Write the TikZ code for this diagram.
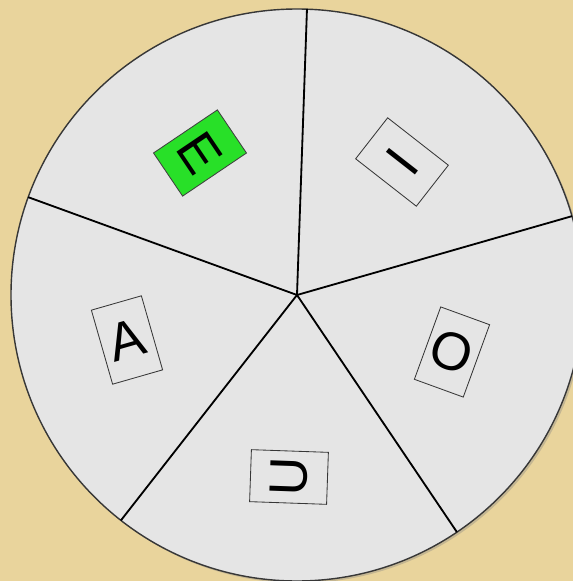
\documentclass[tikz,border=0pt]{standalone}
\usepackage{fontspec}
\setmainfont{Liberation Sans}
\usepackage{xcolor}
\usetikzlibrary{shadows}
\definecolor{Parchment}{RGB}{233,212,156}
\definecolor{WheelGray}{RGB}{229,229,229}
\definecolor{RimGray}{RGB}{55,55,55}
\definecolor{PickGreen}{RGB}{40,224,40}

\begin{document}
\begin{tikzpicture}[
  x=0.025cm,
  y=0.025cm,
  tile/.style={
    rectangle,
    draw=RimGray,
    line width=0.6pt,
    fill=WheelGray,
    minimum width=1.3cm,
    minimum height=1.925cm,
    inner sep=0pt,
    font=\fontsize{38}{40}\selectfont
  },
  picked/.style={
    tile,
    fill=PickGreen,
    draw=black!75
  },
  spoke/.style={line width=1.3pt, black}
]

% Frame: parchment backdrop
\useasboundingbox (-297,-286) rectangle (276,295);
\fill[Parchment] (-297,-286) rectangle (276,295);

% Wheel disc
\coordinate (hub) at (0,0);
\filldraw[fill=WheelGray, draw=RimGray, line width=1pt,
  drop shadow={shadow xshift=1.5pt, shadow yshift=-1.5pt, opacity=0.35}]
  (hub) circle[radius=286];

% Rim points between the sectors
\coordinate (rimEI) at (88:286);
\coordinate (rimIO) at (16:286);
\coordinate (rimOU) at (-56:286);
\coordinate (rimUA) at (-128:286);
\coordinate (rimAE) at (160:286);

\draw[spoke] (hub) -- (rimEI);
\draw[spoke] (hub) -- (rimIO);
\draw[spoke] (hub) -- (rimOU);
\draw[spoke] (hub) -- (rimUA);
\draw[spoke] (hub) -- (rimAE);

% Letter tiles, one per sector
\node[picked, rotate=-56] (vowelE) at (-97,142) {E};
\node[tile, rotate=-128] (vowelI) at (105,133) {I};
\node[tile, rotate=160] (vowelO) at (155,-57) {O};
\node[tile, rotate=88] (vowelU) at (-8,-182) {U};
\node[tile, rotate=16] (vowelA) at (-170,-45) {A};
\end{tikzpicture}
\end{document}
